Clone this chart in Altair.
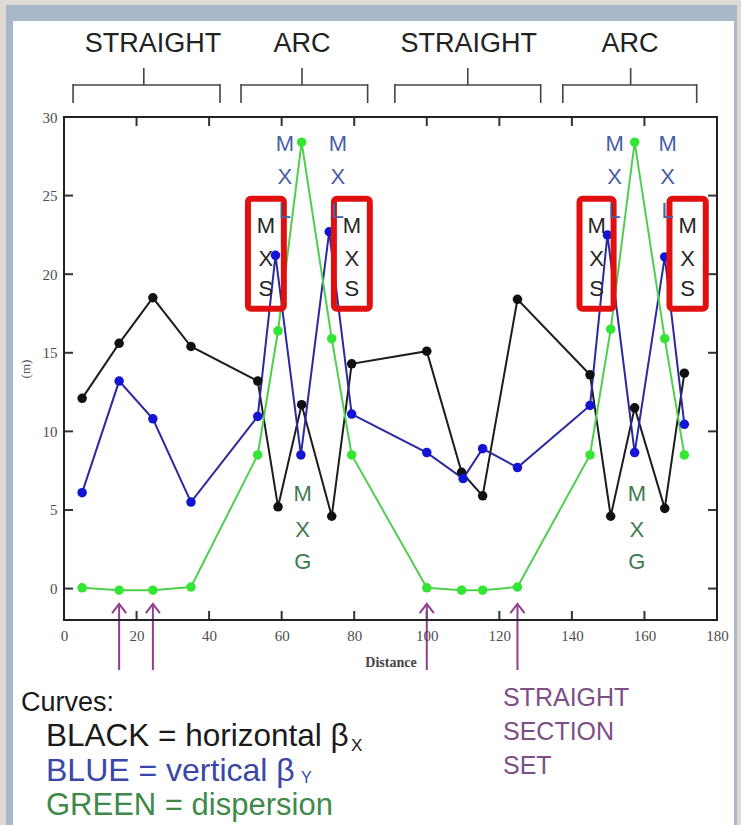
import altair as alt
import pandas as pd

# ---------------- data ----------------
s_main = [5, 15.2, 24.5, 35, 53.4, 59, 65.5, 73.8, 79.3, 100, 109.6, 115.4, 125, 145, 150.7, 157.3, 165.6, 171]
beta_x = [12.1, 15.6, 18.5, 15.4, 13.2, 5.2, 11.7, 4.6, 14.3, 15.1, 7.4, 5.9, 18.4, 13.6, 4.6, 11.5, 5.1, 13.7]

s_blue = [5, 15.2, 24.5, 35, 53.4, 58.3, 65.3, 73.1, 79.3, 100, 110, 115.4, 125, 145, 149.8, 157.3, 165.6, 171]
beta_y = [6.1, 13.2, 10.8, 5.5, 10.95, 21.2, 8.5, 22.7, 11.1, 8.65, 7.0, 8.9, 7.7, 11.65, 22.5, 8.65, 21.1, 10.45]

dispersion = [0.05, -0.1, -0.1, 0.1, 8.5, 16.4, 28.4, 15.9, 8.5, 0.05, -0.1, -0.1, 0.1, 8.5, 16.5, 28.4, 15.9, 8.5]

x_tick_labels = [0, 20, 40, 60, 80, 100, 120, 140, 160, 180]
y_tick_labels = [0, 5, 10, 15, 20, 25, 30]
x_inner_ticks = [20, 40, 60, 80, 100, 120, 140, 160]
y_inner_ticks = [0, 5, 10, 15, 20, 25]

section_names = ["STRAIGHT", "ARC", "STRAIGHT", "ARC"]
section_left = [2.5, 48.8, 91.2, 137.5]
section_right = [43.0, 83.7, 131.4, 174.4]
section_center = [22.0, 65.6, 111.3, 156.2]
section_label_x = [24.5, 65.6, 111.6, 156.0]

# red boxes around sextupole labels
box_x1 = [50.7, 74.4, 142.1, 166.9]
box_x2 = [60.6, 84.3, 151.5, 176.9]
box_y1 = [17.8, 17.8, 17.8, 17.8]
box_y2 = [24.8, 24.8, 24.8, 24.8]

mxs_x = [55.65, 79.35, 146.8, 171.9]
mxl_x = [60.9, 75.5, 151.8, 166.4]
mxg_x = [65.8, 157.9]
mxs_letters = ["M", "X", "S"]
mxs_y = [23.06, 20.96, 19.04]
mxl_letters = ["M", "X", "L"]
mxl_y = [28.3, 26.2, 24.0]
mxg_letters = ["M", "X", "G"]
mxg_y = [6.0, 3.75, 1.7]

arrow_s = [15.2, 24.5, 100, 125]

# ---------------- layout ----------------
W, H = 653, 503
PL, PT = 64, 117
FW, FH = 741, 825

xs = alt.Scale(domain=[0, 180], nice=False, zero=False)
ys = alt.Scale(domain=[-2, 30], nice=False, zero=False)

xaxis = alt.Axis(values=x_tick_labels, title="Distance", ticks=False, domain=False, grid=False,
                 labelFont="Liberation Serif", labelFontSize=15, labelColor="#4d4d4d",
                 labelPadding=8, labelFlush=False,
                 titleFont="Liberation Serif", titleFontSize=14, titleFontWeight="bold",
                 titleColor="#444444", titlePadding=12, zindex=1)
yaxis = alt.Axis(values=y_tick_labels, title="(m)", ticks=False, domain=False, grid=False,
                 labelFont="Liberation Serif", labelFontSize=15, labelColor="#4d4d4d",
                 labelPadding=7, labelFlush=False,
                 titleFont="Liberation Serif", titleFontSize=13, titleFontWeight="normal",
                 titleColor="#555555", titlePadding=10, zindex=1)


def X(f):
    return alt.X(f"{f}:Q", scale=xs, axis=xaxis)


def Y(f):
    return alt.Y(f"{f}:Q", scale=ys, axis=yaxis)


one = pd.DataFrame({"a": [0]})

# background
bg_outer = alt.Chart(one).mark_rect(fill="#dedad3").encode(
    x=alt.value(-PL), x2=alt.value(FW - PL), y=alt.value(-PT), y2=alt.value(FH - PT))
bg_blue = alt.Chart(one).mark_rect(fill="#a9b8c8").encode(
    x=alt.value(6 - PL), x2=alt.value(737 - PL), y=alt.value(5 - PT), y2=alt.value(FH - PT))
bg_white = alt.Chart(one).mark_rect(fill="#ffffff").encode(
    x=alt.value(13 - PL), x2=alt.value(734 - PL), y=alt.value(21 - PT), y2=alt.value(FH - PT))

# plot frame
frame = alt.Chart(one).mark_rect(fill=None, fillOpacity=0, stroke="#222222", strokeWidth=2).encode(
    x=alt.value(0), x2=alt.value(W), y=alt.value(0), y2=alt.value(H))

# series tables
df_bx = pd.DataFrame({"s": s_main, "v": beta_x, "o": range(len(s_main))})
df_by = pd.DataFrame({"s": s_blue, "v": beta_y, "o": range(len(s_blue))})
df_d = pd.DataFrame({"s": s_main, "v": dispersion, "o": range(len(s_main))})


def series(df, line_color, point_color):
    ln = alt.Chart(df).mark_line(color=line_color, strokeWidth=2).encode(
        x=X("s"), y=Y("v"), order="o:Q")
    pt = alt.Chart(df).mark_point(filled=True, color=point_color, size=90, opacity=1).encode(
        x=X("s"), y=Y("v"))
    return ln, pt


bl, bp = series(df_bx, "#1c1c1c", "#111111")
ul, up = series(df_by, "#2a2aa0", "#1414d6")
gl, gp = series(df_d, "#4fcf4f", "#33e633")

# inward ticks
df_xt = pd.DataFrame({"t": x_inner_ticks})
df_yt = pd.DataFrame({"t": y_inner_ticks})
tk = dict(color="#333333", strokeWidth=2)
t_bottom = alt.Chart(df_xt).mark_rule(**tk).encode(x=X("t"), y=alt.value(H), y2=alt.value(H - 9))
t_top = alt.Chart(df_xt).mark_rule(**tk).encode(x=X("t"), y=alt.value(0), y2=alt.value(9))
t_left = alt.Chart(df_yt).mark_rule(**tk).encode(y=Y("t"), x=alt.value(0), x2=alt.value(9))
t_right = alt.Chart(df_yt).mark_rule(**tk).encode(y=Y("t"), x=alt.value(W), x2=alt.value(W - 9))

# brackets
df_br = pd.DataFrame({"l": section_left, "r": section_right, "c": section_center,
                      "lx": section_label_x, "name": section_names})
bk = dict(color="#444444", strokeWidth=1.6)
br_h = alt.Chart(df_br).mark_rule(**bk).encode(x=X("l"), x2="r:Q", y=alt.value(-32))
br_l = alt.Chart(df_br).mark_rule(**bk).encode(x=X("l"), y=alt.value(-33), y2=alt.value(-14))
br_r = alt.Chart(df_br).mark_rule(**bk).encode(x=X("r"), y=alt.value(-33), y2=alt.value(-14))
br_c = alt.Chart(df_br).mark_rule(**bk).encode(x=X("c"), y=alt.value(-32), y2=alt.value(-49))
br_t = alt.Chart(df_br).mark_text(font="Liberation Sans", fontSize=27, color="#222222",
                                  baseline="alphabetic").encode(
    x=X("lx"), y=alt.value(-65), text="name:N")

# red boxes
df_box = pd.DataFrame({"x1": box_x1, "x2": box_x2, "y1": box_y1, "y2": box_y2})
boxes = alt.Chart(df_box).mark_rect(fill=None, fillOpacity=0, stroke="#e01010", strokeWidth=6,
                                    cornerRadius=3).encode(
    x=X("x1"), x2="x2:Q", y=Y("y1"), y2="y2:Q")


def letters(xlist, chars, ylist, color):
    rows = []
    for xv in xlist:
        for ch, yv in zip(chars, ylist):
            rows.append({"x": xv, "y": yv, "t": ch})
    return alt.Chart(pd.DataFrame(rows)).mark_text(
        font="Liberation Sans", fontSize=22, color=color, baseline="middle", align="center").encode(
        x=X("x"), y=Y("y"), text="t:N")


t_mxs = letters(mxs_x, mxs_letters, mxs_y, "#262626")
t_mxl = letters(mxl_x, mxl_letters, mxl_y, "#4a5ea6")
t_mxg = letters(mxg_x, mxg_letters, mxg_y, "#3f7a52")

# arrows (straight section set)
df_arr = pd.DataFrame({"s": arrow_s})
purple = "#8e3f8e"
arr_shaft = alt.Chart(df_arr).mark_rule(color=purple, strokeWidth=2).encode(
    x=X("s"), y=alt.value(553), y2=alt.value(489))
arr_head = alt.Chart(df_arr).mark_point(shape="M-1,1.3L0,0L1,1.3", filled=False, stroke=purple,
                                        strokeWidth=2, size=200, opacity=1).encode(
    x=X("s"), y=alt.value(487))


# bottom text
def txt(text, px, py, size, color):
    return alt.Chart(one).mark_text(text=text, font="Liberation Sans", fontSize=size, color=color,
                                    align="left", baseline="alphabetic").encode(
        x=alt.value(px - PL), y=alt.value(py - PT))


notes = [
    txt("Curves:", 21, 711, 27, "#1a1a1a"),
    txt("BLACK = horizontal β", 46, 746, 31.5, "#1a1a1a"),
    txt("X", 351, 751, 17, "#1a1a1a"),
    txt("BLUE = vertical β", 46, 781, 32, "#3a46a8"),
    txt("Y", 301, 783, 16, "#3a46a8"),
    txt("GREEN = dispersion", 46, 815, 31, "#3f8a4a"),
    txt("STRAIGHT", 503, 706, 25, "#7d4f85"),
    txt("SECTION", 503, 740, 25, "#7d4f85"),
    txt("SET", 503, 774, 25, "#7d4f85"),
]

chart = alt.layer(
    bg_outer, bg_blue, bg_white,
    br_h, br_l, br_r, br_c, br_t,
    t_bottom, t_top, t_left, t_right,
    bl, ul, gl, bp, up, gp,
    boxes, t_mxl, t_mxs, t_mxg,
    arr_shaft, arr_head,
    frame,
    *notes,
).properties(
    width=W, height=H,
    autosize=alt.AutoSizeParams(type="none"),
    padding={"left": PL, "top": PT, "right": FW - PL - W, "bottom": FH - PT - H},
).configure(background="#dedad3").configure_view(stroke=None, fill=None)

chart.save("out.html", embed_options={"renderer": "svg", "actions": False})
